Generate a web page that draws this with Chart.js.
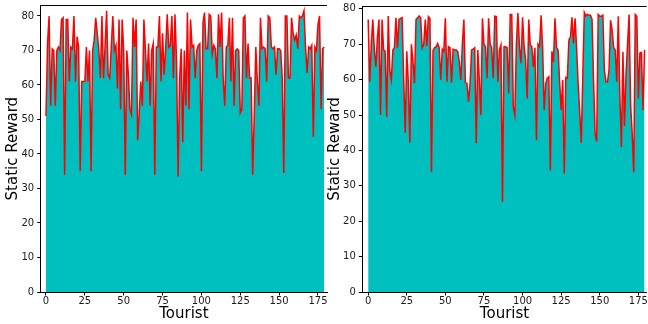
<!DOCTYPE html>
<html><head><meta charset="utf-8">
<script src="https://cdn.jsdelivr.net/npm/chart.js@4.4.1/dist/chart.umd.min.js"></script>
<style>
html,body{margin:0;padding:0;background:#fff;width:648px;height:324px;overflow:hidden;}
canvas{position:absolute;top:0;}
#c1{left:0;} #c2{left:322px;}
</style></head><body>
<canvas id="c1" width="330" height="324"></canvas>
<canvas id="c2" width="326" height="324"></canvas>
<script>
// Static reward per tourist (index 0..179), left and right panels
const leftValues = [
51,72,80,54,70.5,70,54,70,71,70, 79,79.5,34,79,79,61,71,70.5,80,61,
74,71,35,61,61,61,71,61,70,35, 70,73,79.5,75,70,62,80,62,71,81.5,
63,62,71,80,70,71.5,59,79,53,79, 70,34,70,63,53,51.5,79.5,71,79,44,
52,61,54,79,70,61,72,54,70,72, 34,71,71,80,61,75,63,70.5,80.5,71,
71.5,80,62,80.5,67,33.5,62,70.5,43.5,70, 54,81,53,79,71,71.5,62,70,71.5,72,
35,78,81,70.5,70.5,80.5,80,69,71.5,70.5, 62,80.5,71,81,62,54,71,71.5,79.5,61,
79.5,54,70,70.5,70,52,53,79.5,80,62, 72,62,62,34,51.5,71,61,54,79.5,70.5,
71,70.5,61,80,79.5,71,70.5,71,63,70.5, 70.5,70,62,34.5,80,80,62,62,79.5,75,
73,74.5,70.5,80,79.5,80,81.5,71,63.5,71, 70.5,71.5,45,71,70,77.5,80,53,70.5,71
];
const rightValues = [
77,59.4,70,77,68.4,63.6,72,77,50,77, 68.4,68,49.5,78,62.7,60,68.4,69,77.5,69,
77,77.3,77.5,60.4,45,68,59.4,42.2,70,65, 59,77,77.5,78,77.5,69,70,77,69.5,77.8,
77.3,34,68.2,69,69.3,70.2,69,60,68.6,68, 77.3,59.4,69.3,69,59.1,68.6,68.4,68.4,67.9,65,
59.9,70,77,59.1,58.9,53.8,58.9,68.4,68.6,69, 42,68.4,59.9,50,77.3,70,69.3,60.4,77.3,70,
69,60.4,77.9,77.8,59.4,68.4,69.8,25.5,69.3,69.3, 69,56.1,78.4,78.4,52.3,50,70,78.8,69.3,64.6,
77.6,69.3,65.5,54.7,77,69.8,69.3,63.6,69,42.9, 70,69.3,78.2,69,51.4,58.9,60.4,60.8,34.3,68,
65,77.3,69,68.4,59.4,51.4,59.9,33.5,60.6,60.4, 71.2,72,77.6,70.2,77.3,69,58.9,50.9,42.2,61,
79,78,78.4,78.2,78.2,77,59.4,44.9,42.5,78.4, 77.9,77.9,78.2,62.7,59.4,59.4,62.7,76.8,74,69,
68.4,59.4,77.9,55.7,41,67.9,46.9,61.5,70,78.4, 52.6,44.9,33.8,78.4,77.9,54.7,67.5,67.7,51.4,68.4
];
const xTickValues = [0,25,50,75,100,125,150,175];
const yTickValues = [0,10,20,30,40,50,60,70,80];
const xLabel = 'Tourist';
const yLabel = 'Static Reward';

const topSpine = {
  id: 'topSpine',
  afterDraw(chart) {
    const {ctx, chartArea} = chart;
    ctx.save();
    ctx.strokeStyle = '#000';
    ctx.lineWidth = 1;
    const y = Math.round(chartArea.top) + 0.5;
    ctx.beginPath();
    ctx.moveTo(chartArea.left, y);
    ctx.lineTo(chartArea.right, y);
    ctx.stroke();
    ctx.restore();
  }
};

function zeroPad(s){ s.paddingTop = 0; s.paddingBottom = 0; s.paddingLeft = 0; s.paddingRight = 0; }

function makeChart(id, values, cfg) {
  const pts = values.map((v, i) => ({x: i, y: v}));
  return new Chart(document.getElementById(id), {
    type: 'line',
    data: { datasets: [{
      data: pts,
      borderColor: '#ff0000',
      borderWidth: 1.5,
      backgroundColor: '#00bfbf',
      fill: 'origin',
      pointRadius: 0,
      tension: 0
    }]},
    options: {
      responsive: false,
      animation: false,
      events: [],
      layout: { padding: { left: 0, top: cfg.top, right: cfg.right, bottom: 0 } },
      plugins: { legend: { display: false }, tooltip: { enabled: false } },
      scales: {
        x: {
          type: 'linear', min: cfg.xmin, max: cfg.xmax,
          afterFit: s => { s.height = 32; zeroPad(s); },
          afterBuildTicks: s => { s.ticks = xTickValues.map(v => ({value: v})); },
          ticks: { includeBounds: false, stepSize: 25, maxRotation: 0, autoSkip: false, padding: 0.5,
                   color: '#1a1a1a', font: { family: 'DejaVu Sans', size: 10, lineHeight: 1 } },
          grid: { drawOnChartArea: false, drawTicks: true, tickLength: 3.5, color: '#000', tickWidth: 1 },
          border: { display: true, color: '#000', width: 1 },
          title: { display: true, text: xLabel, color: '#000', padding: { top: 0, bottom: 1 },
                   font: { family: 'DejaVu Sans', size: 15 } }
        },
        y: {
          type: 'linear', min: 0, max: cfg.ymax,
          afterFit: s => { s.width = cfg.yw; zeroPad(s); },
          afterBuildTicks: s => { s.ticks = yTickValues.map(v => ({value: v})); },
          ticks: { includeBounds: false, stepSize: 10, padding: 3, color: '#1a1a1a',
                   font: { family: 'DejaVu Sans', size: 10 } },
          grid: { drawOnChartArea: false, drawTicks: true, tickLength: 3.5, color: '#000', tickWidth: 1 },
          border: { display: true, color: '#000', width: 1 },
          title: { display: true, text: yLabel, color: '#000', padding: { top: 4, bottom: 0 },
                   font: { family: 'DejaVu Sans', size: 15 } }
        }
      }
    },
    plugins: [topSpine]
  });
}

makeChart('c1', leftValues, { top: 5.3, right: 3, xmin: -3.4, xmax: 180.8, ymax: 83.1, yw: 40.7 });
makeChart('c2', rightValues, { top: 6, right: 1.3, xmin: -3.8, xmax: 180.4, ymax: 80.8, yw: 40.3 });
</script>
</body></html>
